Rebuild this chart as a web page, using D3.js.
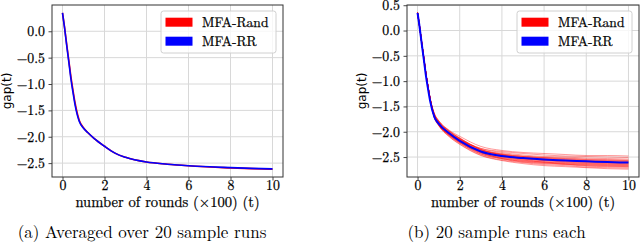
<!DOCTYPE html>
<html>
<head>
<meta charset="utf-8">
<script src="https://cdn.jsdelivr.net/npm/d3@7"></script>
<style>
  html, body { margin: 0; padding: 0; background: #fff; }
  svg { display: block; }
</style>
</head>
<body>
<div id="chart"></div>
<script>
const W = 640, H = 244;

// x positions (hundreds of rounds) of the averaged curves
const avgX = [0, 0.1, 0.2, 0.3, 0.4, 0.5, 0.6, 0.7, 0.8, 1, 1.2, 1.5, 2, 2.5, 3, 4, 5, 6, 7, 8, 9, 10];
const avgRand = [0.35, 0.07, -0.25, -0.55, -0.86, -1.12, -1.36, -1.55, -1.69, -1.83, -1.92, -2.03, -2.18, -2.31, -2.39, -2.48, -2.52, -2.55, -2.575, -2.59, -2.605, -2.615];
const avgRR = [0.35, 0.06, -0.27, -0.58, -0.90, -1.16, -1.40, -1.58, -1.71, -1.84, -1.92, -2.03, -2.18, -2.31, -2.39, -2.48, -2.52, -2.55, -2.57, -2.585, -2.60, -2.61];

// x positions of the individual sample runs
const runX = [0, 0.1, 0.2, 0.3, 0.4, 0.5, 0.6, 0.8, 1, 1.5, 2, 3, 4, 5, 6, 7, 8, 9, 10];
const randRuns = [
  [0.35, 0.07, -0.25, -0.55, -0.86, -1.11, -1.35, -1.65, -1.78, -1.97, -2.09, -2.29, -2.37, -2.41, -2.43, -2.45, -2.47, -2.47, -2.48],
  [0.35, 0.07, -0.25, -0.55, -0.86, -1.12, -1.36, -1.70, -1.86, -2.05, -2.16, -2.33, -2.39, -2.43, -2.46, -2.48, -2.49, -2.50, -2.51],
  [0.35, 0.07, -0.25, -0.55, -0.86, -1.12, -1.35, -1.67, -1.80, -1.99, -2.13, -2.33, -2.41, -2.46, -2.49, -2.50, -2.52, -2.53, -2.54],
  [0.35, 0.07, -0.25, -0.55, -0.86, -1.12, -1.36, -1.68, -1.81, -2.01, -2.14, -2.35, -2.43, -2.48, -2.51, -2.52, -2.54, -2.55, -2.56],
  [0.35, 0.07, -0.25, -0.55, -0.86, -1.11, -1.34, -1.64, -1.78, -1.98, -2.12, -2.35, -2.44, -2.49, -2.51, -2.53, -2.55, -2.56, -2.57],
  [0.35, 0.07, -0.25, -0.55, -0.86, -1.12, -1.36, -1.68, -1.82, -2.02, -2.15, -2.36, -2.45, -2.49, -2.52, -2.54, -2.56, -2.57, -2.58],
  [0.35, 0.07, -0.25, -0.55, -0.86, -1.12, -1.36, -1.68, -1.82, -2.02, -2.16, -2.37, -2.45, -2.50, -2.53, -2.55, -2.57, -2.58, -2.59],
  [0.35, 0.07, -0.25, -0.55, -0.86, -1.12, -1.36, -1.69, -1.83, -2.03, -2.16, -2.37, -2.46, -2.51, -2.54, -2.56, -2.58, -2.59, -2.60],
  [0.35, 0.07, -0.25, -0.55, -0.86, -1.12, -1.37, -1.71, -1.86, -2.06, -2.20, -2.40, -2.47, -2.52, -2.55, -2.57, -2.59, -2.60, -2.61],
  [0.35, 0.07, -0.25, -0.55, -0.86, -1.12, -1.36, -1.69, -1.83, -2.04, -2.18, -2.39, -2.48, -2.53, -2.56, -2.58, -2.60, -2.61, -2.62],
  [0.35, 0.07, -0.25, -0.55, -0.86, -1.12, -1.36, -1.70, -1.84, -2.04, -2.18, -2.39, -2.49, -2.54, -2.57, -2.59, -2.61, -2.62, -2.63],
  [0.35, 0.07, -0.25, -0.55, -0.86, -1.11, -1.34, -1.65, -1.79, -1.99, -2.13, -2.35, -2.46, -2.53, -2.57, -2.60, -2.62, -2.63, -2.64],
  [0.35, 0.07, -0.25, -0.55, -0.86, -1.12, -1.36, -1.70, -1.85, -2.05, -2.19, -2.41, -2.50, -2.55, -2.59, -2.61, -2.63, -2.64, -2.65],
  [0.35, 0.07, -0.25, -0.55, -0.86, -1.12, -1.37, -1.71, -1.85, -2.06, -2.20, -2.42, -2.51, -2.56, -2.60, -2.62, -2.64, -2.65, -2.66],
  [0.35, 0.07, -0.25, -0.55, -0.86, -1.12, -1.37, -1.71, -1.85, -2.06, -2.21, -2.42, -2.52, -2.57, -2.60, -2.63, -2.65, -2.66, -2.67],
  [0.35, 0.07, -0.25, -0.55, -0.86, -1.11, -1.35, -1.66, -1.80, -2.00, -2.14, -2.40, -2.53, -2.58, -2.61, -2.64, -2.66, -2.67, -2.68],
  [0.35, 0.07, -0.25, -0.55, -0.86, -1.12, -1.37, -1.71, -1.86, -2.07, -2.22, -2.44, -2.53, -2.59, -2.62, -2.64, -2.67, -2.68, -2.69],
  [0.35, 0.07, -0.25, -0.55, -0.86, -1.12, -1.37, -1.72, -1.87, -2.08, -2.22, -2.44, -2.54, -2.60, -2.63, -2.65, -2.68, -2.69, -2.70],
  [0.35, 0.07, -0.25, -0.55, -0.86, -1.13, -1.37, -1.72, -1.87, -2.09, -2.24, -2.46, -2.56, -2.61, -2.65, -2.67, -2.70, -2.71, -2.72],
  [0.35, 0.07, -0.25, -0.55, -0.86, -1.13, -1.37, -1.73, -1.88, -2.10, -2.25, -2.47, -2.57, -2.63, -2.67, -2.69, -2.71, -2.73, -2.74]
];
// the 20 MFA-RR runs coincide
const rrRun = [0.35, 0.06, -0.27, -0.58, -0.90, -1.16, -1.40, -1.71, -1.84, -2.03, -2.18, -2.39, -2.48, -2.52, -2.55, -2.57, -2.585, -2.60, -2.61];

const xTicks = [0, 2, 4, 6, 8, 10];
const yTicksA = [0, -0.5, -1, -1.5, -2, -2.5];
const yTicksB = [0.5, 0, -0.5, -1, -1.5, -2, -2.5];
const legendLabels = ["MFA-Rand", "MFA-RR"];
const legendColors = ["#ff0000", "#0000ff"];
const captions = ["(a) Averaged over 20 sample runs", "(b) 20 sample runs each"];

const serif = "'Latin Modern Roman', 'Liberation Serif', serif";
const svg = d3.select("#chart").append("svg")
    .attr("width", W)
    .attr("height", H);

function toPoints(xs, ys) {
    return xs.map((x, i) => [x, ys[i]]);
}

// matplotlib style 5% margins
function padded(lo, hi) {
    const r = hi - lo;
    return [lo - 0.05 * r, hi + 0.05 * r];
}

function drawPanel(cfg) {
    const g = svg.append("g");
    const allY = cfg.series.flatMap(s => s.lines.flat());
    const x = d3.scaleLinear(padded(0, 10), [cfg.left, cfg.right]);
    const y = d3.scaleLinear(padded(d3.min(allY), d3.max(allY)), [cfg.bottom, cfg.top]);

    // grid
    g.append("g").selectAll("line")
        .data(xTicks)
        .join("line")
        .attr("x1", d => x(d)).attr("x2", d => x(d))
        .attr("y1", cfg.top).attr("y2", cfg.bottom)
        .attr("stroke", "#d8d8d8").attr("stroke-width", 1);
    g.append("g").selectAll("line")
        .data(cfg.yTicks)
        .join("line")
        .attr("x1", cfg.left).attr("x2", cfg.right)
        .attr("y1", d => y(d)).attr("y2", d => y(d))
        .attr("stroke", "#d8d8d8").attr("stroke-width", 1);

    const line = d3.line()
        .x(d => x(d[0]))
        .y(d => y(d[1]))
        .curve(d3.curveMonotoneX);

    cfg.series.forEach(s => {
        g.append("g").selectAll("path")
            .data(s.lines)
            .join("path")
            .attr("d", d => line(toPoints(s.xs, d)))
            .attr("fill", "none")
            .attr("stroke", s.color)
            .attr("stroke-width", s.width)
            .attr("stroke-opacity", s.opacity);
    });

    // axes
    const xAxis = g.append("g")
        .attr("transform", `translate(0,${cfg.bottom})`)
        .call(d3.axisBottom(x).tickValues(xTicks).tickSize(3.5).tickPadding(0));
    const yAxis = g.append("g")
        .attr("transform", `translate(${cfg.left},0)`)
        .call(d3.axisLeft(y).tickValues(cfg.yTicks).tickFormat(d3.format(".1f")).tickSize(3.5).tickPadding(3.5));
    [xAxis, yAxis].forEach(a => {
        a.select(".domain").remove();
        a.selectAll(".tick line").attr("stroke", "#333").attr("stroke-width", 0.9);
        a.selectAll(".tick text")
            .attr("fill", "#000")
            .attr("stroke", "#000")
            .attr("stroke-width", 0.25)
            .style("font-family", serif)
            .style("font-size", "13.8px");
    });

    g.append("rect")
        .attr("x", cfg.left).attr("y", cfg.top)
        .attr("width", cfg.right - cfg.left).attr("height", cfg.bottom - cfg.top)
        .attr("fill", "none").attr("stroke", "#333").attr("stroke-width", 1);

    g.append("text")
        .attr("x", (cfg.left + cfg.right) / 2)
        .attr("y", 207)
        .attr("text-anchor", "middle")
        .attr("stroke", "#000")
        .attr("stroke-width", 0.25)
        .style("font-family", serif)
        .style("font-size", "14.6px")
        .text("number of rounds (×100) (t)");

    g.append("text")
        .attr("transform", `translate(${cfg.left - 41},${(cfg.top + cfg.bottom) / 2}) rotate(-90)`)
        .attr("text-anchor", "middle")
        .style("font-family", "'DejaVu Sans', sans-serif")
        .style("font-size", "12px")
        .text("gap(t)");

    // legend
    const lg = g.append("g").attr("transform", `translate(${cfg.right - 122},11)`);
    lg.append("rect")
        .attr("width", 115).attr("height", 42)
        .attr("rx", 2.5)
        .attr("fill", "#fff").attr("fill-opacity", 0.8)
        .attr("stroke", "#d0d0d0").attr("stroke-width", 1);
    legendLabels.forEach((lab, i) => {
        lg.append("rect")
            .attr("x", 4.5).attr("y", 6.7 + i * 19)
            .attr("width", 27).attr("height", 9)
            .attr("fill", legendColors[i]);
        lg.append("text")
            .attr("x", 41).attr("y", 16 + i * 19)
            .attr("stroke", "#000")
            .attr("stroke-width", 0.25)
            .style("font-family", serif)
            .style("font-size", "13.6px")
            .text(lab);
    });

    g.append("text")
        .attr("x", cfg.captionX)
        .attr("y", 237.5)
        .attr("text-anchor", "middle")
        .style("font-family", serif)
        .style("font-size", "17px")
        .text(cfg.caption);
}

drawPanel({
    left: 52, right: 283, top: 5, bottom: 177,
    yTicks: yTicksA,
    caption: captions[0], captionX: 142,
    series: [
        { xs: avgX, lines: [avgRand], color: "#ff0000", width: 1.6, opacity: 1 },
        { xs: avgX, lines: [avgRR], color: "#0000ff", width: 1.6, opacity: 1 }
    ]
});

drawPanel({
    left: 407, right: 639, top: 5, bottom: 177,
    yTicks: yTicksB,
    caption: captions[1], captionX: 496.5,
    series: [
        { xs: runX, lines: randRuns, color: "#ff0000", width: 0.8, opacity: 0.5 },
        { xs: runX, lines: [rrRun], color: "#0000ff", width: 2, opacity: 1 }
    ]
});
</script>
</body>
</html>
